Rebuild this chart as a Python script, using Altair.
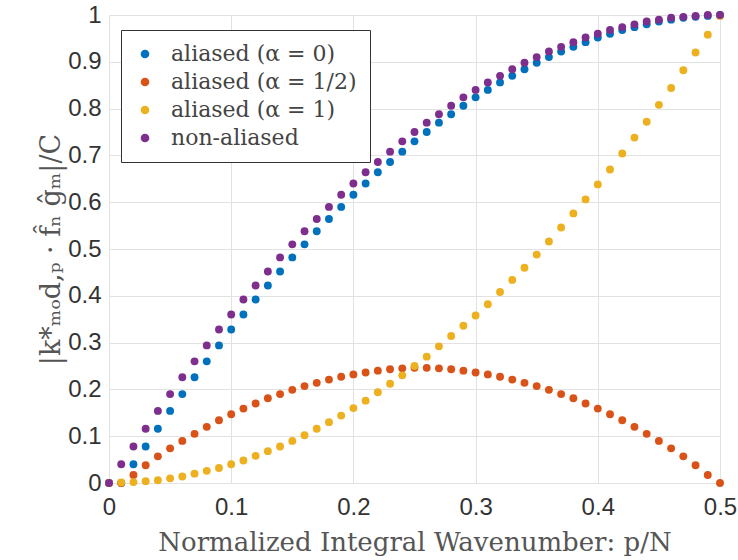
import altair as alt
import pandas as pd

# p/N sample points (0, 0.01, ..., 0.50)
xs = [round(i * 0.01, 2) for i in range(51)]

series_names = ["aliased (α = 0)", "aliased (α = 1/2)", "aliased (α = 1)", "non-aliased"]
series_colors = ["#0072BD", "#D95319", "#EDB120", "#7E2F8E"]

non_aliased = [0.000, 0.040, 0.078, 0.116, 0.154, 0.190, 0.226, 0.260, 0.294, 0.328,
               0.360, 0.392, 0.422, 0.452, 0.482, 0.510, 0.538, 0.564, 0.590, 0.616,
               0.640, 0.664, 0.686, 0.708, 0.730, 0.750, 0.770, 0.788, 0.806, 0.824,
               0.840, 0.856, 0.870, 0.884, 0.898, 0.910, 0.922, 0.932, 0.942, 0.952,
               0.960, 0.968, 0.974, 0.980, 0.986, 0.990, 0.994, 0.996, 0.998, 1.000,
               1.000]

aliased_a0 = [0.000, 0.000, 0.040, 0.078, 0.116, 0.154, 0.190, 0.226, 0.260, 0.294,
              0.328, 0.360, 0.392, 0.422, 0.452, 0.482, 0.510, 0.538, 0.564, 0.590,
              0.616, 0.640, 0.664, 0.686, 0.708, 0.730, 0.750, 0.770, 0.788, 0.806,
              0.824, 0.840, 0.856, 0.870, 0.884, 0.898, 0.910, 0.922, 0.932, 0.942,
              0.952, 0.960, 0.968, 0.974, 0.980, 0.986, 0.990, 0.994, 0.996, 0.998,
              1.000]

aliased_a_half = [0.000, 0.000, 0.017, 0.038, 0.057, 0.074, 0.090, 0.105, 0.120, 0.134,
                  0.147, 0.159, 0.170, 0.181, 0.190, 0.199, 0.207, 0.214, 0.221, 0.227,
                  0.232, 0.236, 0.240, 0.243, 0.245, 0.246, 0.246, 0.245, 0.243, 0.240,
                  0.236, 0.232, 0.227, 0.221, 0.214, 0.207, 0.199, 0.190, 0.181, 0.170,
                  0.159, 0.147, 0.134, 0.120, 0.105, 0.090, 0.074, 0.057, 0.038, 0.017,
                  0.000]

aliased_a1 = [0.000, 0.001, 0.002, 0.004, 0.006, 0.010, 0.014, 0.020, 0.026, 0.032,
              0.040, 0.048, 0.058, 0.068, 0.078, 0.090, 0.102, 0.116, 0.130, 0.144,
              0.160, 0.176, 0.194, 0.212, 0.230, 0.250, 0.270, 0.292, 0.314, 0.336,
              0.358, 0.382, 0.408, 0.434, 0.460, 0.488, 0.516, 0.546, 0.576, 0.606,
              0.638, 0.670, 0.704, 0.738, 0.772, 0.808, 0.844, 0.882, 0.920, 0.958,
              0.998]

x_ticks = [0, 0.1, 0.2, 0.3, 0.4, 0.5]
y_ticks = [0, 0.1, 0.2, 0.3, 0.4, 0.5, 0.6, 0.7, 0.8, 0.9, 1.0]

rows = []
for name, vals in zip(series_names, [aliased_a0, aliased_a_half, aliased_a1, non_aliased]):
    for x, y in zip(xs, vals):
        rows.append({"x": x, "y": y, "series": name})
df = pd.DataFrame(rows)
df["order"] = df["series"].map({n: i for i, n in enumerate(series_names)})

tick_font = "Liberation Sans"
serif = "'DejaVu Serif', 'Liberation Serif', serif"

chart = alt.Chart(df).mark_circle(size=62, opacity=1).encode(
    x=alt.X("x:Q",
            scale=alt.Scale(domain=[0, 0.5], nice=False),
            axis=alt.Axis(values=x_ticks, format=".1~f",
                          title="Normalized Integral Wavenumber: p/N",
                          titleFont=serif, titleFontSize=26, titleFontWeight="normal",
                          titleColor="#555555", titlePadding=10,
                          labelFont=tick_font, labelFontSize=24, labelColor="#333333",
                          labelPadding=12, labelFlush=False,
                          ticks=False, domain=False,
                          grid=True, gridColor="#e2e2e2")),
    y=alt.Y("y:Q",
            scale=alt.Scale(domain=[0, 1], nice=False),
            axis=alt.Axis(values=y_ticks, format=".1~f",
                          title="|k*ₘₒd,ₚ · f̂ₙ ĝₘ|/C",
                          titleFont=serif, titleFontSize=27, titleFontWeight="normal",
                          titleColor="#555555", titlePadding=2,
                          labelFont=tick_font, labelFontSize=24, labelColor="#333333",
                          labelPadding=8, labelFlush=False,
                          ticks=False, domain=False,
                          grid=True, gridColor="#e2e2e2")),
    color=alt.Color("series:N",
                    scale=alt.Scale(domain=series_names, range=series_colors),
                    sort=series_names,
                    legend=alt.Legend(orient="none", legendX=12, legendY=15,
                                      title=None,
                                      labelFont="DejaVu Serif, serif", labelFontSize=22,
                                      labelColor="#444444",
                                      symbolType="circle", symbolSize=75,
                                      symbolStrokeWidth=0,
                                      labelOffset=15, rowPadding=6,
                                      padding=13,
                                      strokeColor="#333333", fillColor="white",
                                      labelLimit=400)),
    order=alt.Order("order:Q"),
).properties(
    width=611, height=468,
    autosize=alt.AutoSizeParams(type="none"),
    padding={"left": 109, "top": 15, "right": 18, "bottom": 77},
).configure_view(
    stroke="#262626", strokeWidth=1.2
).configure(background="white")

chart.save("out.html", embed_options={"renderer": "svg", "actions": False})
